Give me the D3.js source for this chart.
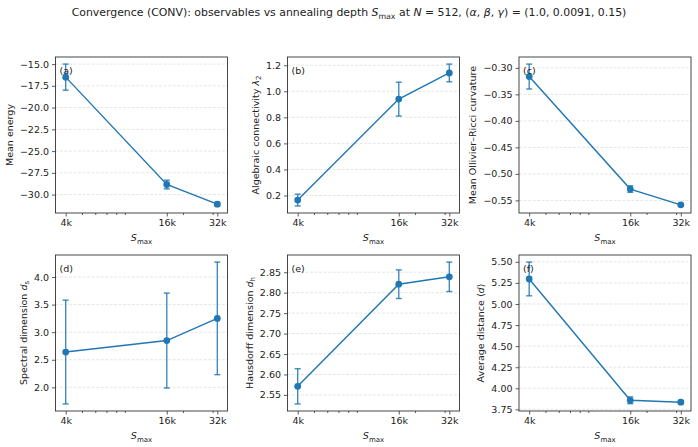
<!DOCTYPE html>
<html>
<head>
<meta charset="utf-8">
<script src="https://cdn.jsdelivr.net/npm/d3@7"></script>
<style>
  body { margin: 0; background: #fff; }
  text { font-family: "DejaVu Sans", sans-serif; fill: #222; }
</style>
</head>
<body>
<svg id="chart" width="698" height="447"></svg>
<script>
// annealing depths and tick labels
const depths = [4000, 16000, 32000];
const depthLabels = ["4k", "16k", "32k"];
const minorDepths = [5000, 6000, 7000, 8000, 9000, 20000, 30000];

// one mean and one error per depth, per observable
const energy = [-16.5, -28.84, -31.1];
const energyErr = [1.5, 0.5, 0.2];
const lambda2 = [0.165, 0.94, 1.141];
const lambda2Err = [0.045, 0.13, 0.068];
const ricci = [-0.3164, -0.5286, -0.5584];
const ricciErr = [0.0235, 0.006, 0.002];
const spectral = [2.64, 2.848, 3.25];
const spectralErr = [0.94, 0.86, 1.02];
const hausdorff = [2.571, 2.8207, 2.8388];
const hausdorffErr = [0.043, 0.035, 0.036];
const avgDist = [5.297, 3.858, 3.835];
const avgDistErr = [0.2, 0.04, 0.02];

const energyTicks = [-15.0, -17.5, -20.0, -22.5, -25.0, -27.5, -30.0];
const lambda2Ticks = [0.2, 0.4, 0.6, 0.8, 1.0, 1.2];
const ricciTicks = [-0.30, -0.35, -0.40, -0.45, -0.50, -0.55];
const spectralTicks = [2.0, 2.5, 3.0, 3.5, 4.0];
const hausdorffTicks = [2.55, 2.60, 2.65, 2.70, 2.75, 2.80, 2.85];
const avgDistTicks = [3.75, 4.00, 4.25, 4.50, 4.75, 5.00, 5.25, 5.50];

const svg = d3.select("#chart");
const blue = "#1f77b4";

// title with math bits
const title = svg.append("text").attr("x", 349).attr("y", 16)
    .attr("text-anchor", "middle").style("font-size", "10.9px");
title.append("tspan").text("Convergence (CONV): observables vs annealing depth ");
title.append("tspan").style("font-style", "italic").text("S");
title.append("tspan").attr("dy", 2.5).style("font-size", "7.8px").text("max");
title.append("tspan").attr("dy", -2.5).text(" at ");
title.append("tspan").style("font-style", "italic").text("N");
title.append("tspan").text(" = 512, (");
title.append("tspan").style("font-style", "italic").text("α");
title.append("tspan").text(", ");
title.append("tspan").style("font-style", "italic").text("β");
title.append("tspan").text(", ");
title.append("tspan").style("font-style", "italic").text("γ");
title.append("tspan").text(") = (1.0, 0.0091, 0.15)");

const panels = [
  {tag: "(a)", vals: energy, errs: energyErr, ticks: energyTicks, fmt: ".1f", label: [["Mean energy"]], col: 0, row: 0},
  {tag: "(b)", vals: lambda2, errs: lambda2Err, ticks: lambda2Ticks, fmt: ".1f", label: [["Algebraic connectivity "], ["λ", "i"], ["2", "sub"]], col: 1, row: 0},
  {tag: "(c)", vals: ricci, errs: ricciErr, ticks: ricciTicks, fmt: ".2f", label: [["Mean Ollivier–Ricci curvature"]], col: 2, row: 0},
  {tag: "(d)", vals: spectral, errs: spectralErr, ticks: spectralTicks, fmt: ".1f", label: [["Spectral dimension "], ["d", "i"], ["s", "sub"]], col: 0, row: 1},
  {tag: "(e)", vals: hausdorff, errs: hausdorffErr, ticks: hausdorffTicks, fmt: ".2f", label: [["Hausdorff dimension "], ["d", "i"], ["h", "sub"]], col: 1, row: 1},
  {tag: "(f)", vals: avgDist, errs: avgDistErr, ticks: avgDistTicks, fmt: ".2f", label: [["Average distance ⟨"], ["d", "i"], ["⟩"]], col: 2, row: 1}
];

const lefts = [55.5, 287.5, 519];
const tops = [57, 255];
const w = 172, h = 156;

const x = d3.scaleLog().domain([4000 / 1.15, 32000 * 1.15]).range([0, w]);

panels.forEach(p => {
  const g = svg.append("g").attr("transform", `translate(${lefts[p.col]},${tops[p.row]})`);

  const lo = d3.min(p.vals.map((v, i) => v - p.errs[i]));
  const hi = d3.max(p.vals.map((v, i) => v + p.errs[i]));
  const pad = (hi - lo) * 0.05;
  const y = d3.scaleLinear().domain([lo - pad, hi + pad]).range([h, 0]);

  // grid
  g.append("g").selectAll("line").data(p.ticks).enter().append("line")
    .attr("x1", 0).attr("x2", w)
    .attr("y1", d => y(d)).attr("y2", d => y(d))
    .attr("stroke", "#b0b0b0").attr("stroke-opacity", 0.45)
    .attr("stroke-width", 0.7).attr("stroke-dasharray", "3,1.5");

  // axes
  const yAxis = g.append("g")
    .call(d3.axisLeft(y).tickValues(p.ticks).tickFormat(d3.format(p.fmt)).tickSize(3.5).tickPadding(3));
  g.append("g").attr("transform", `translate(0,${h})`)
    .call(d3.axisBottom(x).tickValues(depths).tickFormat((d, i) => depthLabels[i]).tickSize(3.5).tickPadding(3));
  g.append("g").attr("transform", `translate(0,${h})`)
    .call(d3.axisBottom(x).tickValues(minorDepths).tickFormat("").tickSize(2));
  g.selectAll(".domain").remove();
  g.selectAll(".tick line").attr("stroke", "#333").attr("stroke-width", 0.8);
  g.selectAll(".tick text").style("font-size", "9.5px").attr("fill", "#222");

  g.append("rect").attr("width", w).attr("height", h)
    .attr("fill", "none").attr("stroke", "#333").attr("stroke-width", 0.9);

  // error bars
  const eb = g.append("g").attr("stroke", blue).attr("stroke-opacity", 0.85).attr("stroke-width", 1.4);
  depths.forEach((d, i) => {
    const cx = x(d), y1 = y(p.vals[i] - p.errs[i]), y2 = y(p.vals[i] + p.errs[i]);
    eb.append("line").attr("x1", cx).attr("x2", cx).attr("y1", y1).attr("y2", y2);
    eb.append("line").attr("x1", cx - 3).attr("x2", cx + 3).attr("y1", y1).attr("y2", y1);
    eb.append("line").attr("x1", cx - 3).attr("x2", cx + 3).attr("y1", y2).attr("y2", y2);
  });

  const line = d3.line().x((d, i) => x(depths[i])).y(d => y(d));
  g.append("path").datum(p.vals).attr("d", line)
    .attr("fill", "none").attr("stroke", blue).attr("stroke-width", 1.4);
  g.selectAll("circle").data(p.vals).enter().append("circle")
    .attr("cx", (d, i) => x(depths[i])).attr("cy", d => y(d)).attr("r", 3.4).attr("fill", blue);

  // panel tag
  g.append("text").attr("x", 4).attr("y", 17).style("font-size", "9.5px").text(p.tag);

  // y label, placed left of the tick labels
  const bb = yAxis.node().getBBox();
  const lx = bb.x - 7;
  const yl = g.append("text").attr("transform", `translate(${lx},${h / 2}) rotate(-90)`)
    .attr("text-anchor", "middle").style("font-size", "9.5px");
  p.label.forEach(part => {
    const t = yl.append("tspan").text(part[0]);
    if (part[1] === "i") t.style("font-style", "italic");
    if (part[1] === "sub") t.style("font-size", "7px").attr("dy", 2.5);
  });

  // x label
  const xl = g.append("text").attr("x", w / 2).attr("y", h + 28)
    .attr("text-anchor", "middle").style("font-size", "9.5px");
  xl.append("tspan").style("font-style", "italic").text("S");
  xl.append("tspan").attr("dy", 2.5).style("font-size", "7px").text("max");
});
</script>
</body>
</html>
